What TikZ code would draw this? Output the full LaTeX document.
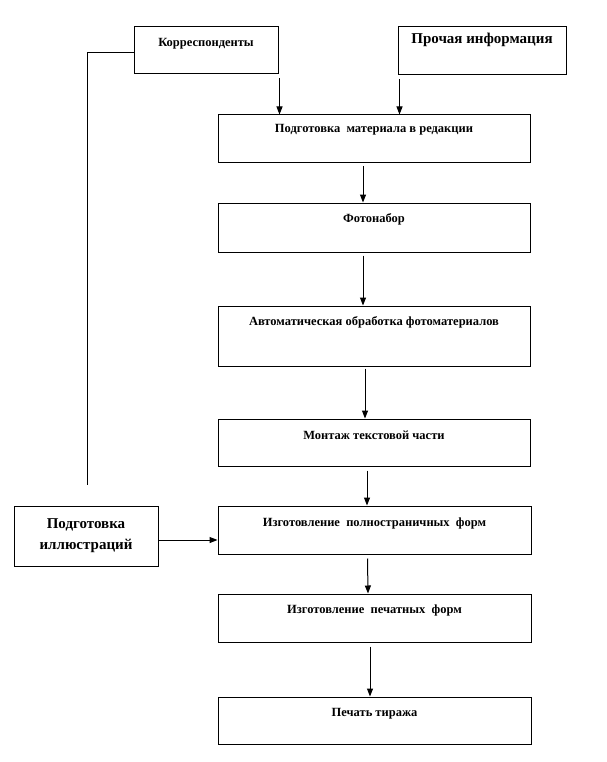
\documentclass[tikz,border=0pt]{standalone}
\usepackage{fontspec}
\setmainfont{Liberation Serif}
\usetikzlibrary{arrows.meta,calc}
\tikzset{
  box/.style={draw, line width=1pt, inner sep=0pt, minimum width=312pt},
  small/.style={anchor=base, inner sep=0pt, font=\fontsize{12.5pt}{14pt}\selectfont\bfseries},
  big/.style={font=\fontsize{15pt}{21pt}\selectfont\bfseries, align=center},
  arr/.style={line width=1pt, -{Triangle[width=6pt,length=8pt]}},
  ln/.style={line width=1pt}
}
\begin{document}
\begin{tikzpicture}[x=1pt,y=1pt]
\useasboundingbox (0,0) rectangle (606,-762);
% boxes
\node[box, minimum width=144pt, minimum height=47pt] (kor) at (206,-50.5) {};
\node[box, minimum width=168pt, minimum height=48pt, big] (pro) at (482,-51) {};
\node[box, minimum height=48pt] (p1) at (374,-139) {};
\node[box, minimum height=49pt] (p2) at (374,-227.5) {};
\node[box, minimum height=60pt] (p3) at (374,-336) {};
\node[box, minimum height=47pt] (p4) at (374,-442.5) {};
\node[box, minimum width=313pt, minimum height=48pt] (p5) at (374.5,-530) {};
\node[box, minimum width=313pt, minimum height=48pt] (p6) at (374.5,-618) {};
\node[box, minimum width=313pt, minimum height=47pt] (p7) at (374.5,-720.5) {};
\node[box, minimum width=144pt, minimum height=60pt, big] (il) at (86,-536) {Подготовка\\иллюстраций};
% texts
\node[small] (tkor) at ($(kor.north)+(0,-20.5)$) {Корреспонденты};
\node[big, anchor=base, inner sep=0pt] (tpro) at ($(pro.north)+(0,-17)$) {Прочая информация};
\node[small] (t1) at ($(p1.north)+(0,-18.5)$) {Подготовка\ \ материала в редакции};
\node[small] (t2) at ($(p2.north)+(0,-19.5)$) {Фотонабор};
\node[small] (t3) at ($(p3.north)+(0,-19.5)$) {Автоматическая обработка фотоматериалов};
\node[small] (t4) at ($(p4.north)+(0,-20.5)$) {Монтаж текстовой части};
\node[small] (t5) at ($(p5.north)+(0,-20.5)$) {Изготовление\ \ полностраничных\ \ форм};
\node[small] (t6) at ($(p6.north)+(0,-19.5)$) {Изготовление\ \ печатных\ \ форм};
\node[small] (t7) at ($(p7.north)+(0,-19.5)$) {Печать тиража};
% connectors
\draw[arr] ($(kor.south east)+(1,-4)$) -- ($(kor.south east |- p1.north)+(1,0)$);
\draw[arr] ($(pro.south west)+(2,-4)$) -- ($(pro.south west |- p1.north)+(2,0)$);
\draw[arr] ($(p1.south)+(-11,-3)$) -- ($(p2.north)+(-11,0)$);
\draw[arr] ($(p2.south)+(-11,-3)$) -- ($(p3.north)+(-11,0)$);
\draw[arr] ($(p3.south)+(-9,-2)$) -- ($(p4.north)+(-9,0)$);
\draw[arr] ($(p4.south)+(-7,-4)$) -- ($(p5.north)+(-7.5,0)$);
\draw[arr] ($(p5.south)+(-7,-4)$) -- ($(p6.north)+(-6.5,0)$);
\draw[arr] ($(p6.south)+(-4.5,-4)$) -- ($(p7.north)+(-4.5,0)$);
\draw[arr] ($(il.east)+(0,-4)$) -- ($(p5.west |- il.east)+(0,-4)$);
\coordinate (lend) at (87,-485);
\draw[ln] ($(kor.west)+(0,-2.5)$) -| (lend);
\end{tikzpicture}
\end{document}
